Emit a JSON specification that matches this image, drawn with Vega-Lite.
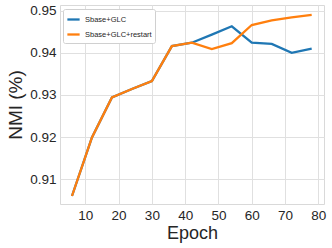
{
  "$schema": "https://vega.github.io/schema/vega-lite/v6.json",
  "width": 264,
  "height": 199,
  "autosize": {"type": "none"},
  "padding": {"left": 60, "top": 5, "right": 8, "bottom": 44},
  "background": "white",
  "config": {
    "font": "Liberation Sans",
    "view": {"stroke": "#d9d9d9", "strokeWidth": 1},
    "axis": {"domain": false, "ticks": false, "gridColor": "#e0e0e0", "gridWidth": 1, "labelColor": "#262626", "titleColor": "#262626", "titleFontWeight": "normal", "labelFont": "Liberation Sans", "titleFont": "Liberation Sans"}
  },
  "data": {"values": [
    {"epoch": 6, "nmi": 0.9060, "s": "Sbase+GLC"},
    {"epoch": 12, "nmi": 0.9199, "s": "Sbase+GLC"},
    {"epoch": 18, "nmi": 0.9294, "s": "Sbase+GLC"},
    {"epoch": 24, "nmi": 0.9314, "s": "Sbase+GLC"},
    {"epoch": 30, "nmi": 0.9333, "s": "Sbase+GLC"},
    {"epoch": 36, "nmi": 0.9416, "s": "Sbase+GLC"},
    {"epoch": 42, "nmi": 0.9424, "s": "Sbase+GLC"},
    {"epoch": 48, "nmi": 0.9443, "s": "Sbase+GLC"},
    {"epoch": 54, "nmi": 0.9463, "s": "Sbase+GLC"},
    {"epoch": 60, "nmi": 0.9424, "s": "Sbase+GLC"},
    {"epoch": 66, "nmi": 0.9421, "s": "Sbase+GLC"},
    {"epoch": 72, "nmi": 0.9400, "s": "Sbase+GLC"},
    {"epoch": 78, "nmi": 0.9410, "s": "Sbase+GLC"},
    {"epoch": 6, "nmi": 0.9060, "s": "Sbase+GLC+restart"},
    {"epoch": 12, "nmi": 0.9199, "s": "Sbase+GLC+restart"},
    {"epoch": 18, "nmi": 0.9294, "s": "Sbase+GLC+restart"},
    {"epoch": 24, "nmi": 0.9314, "s": "Sbase+GLC+restart"},
    {"epoch": 30, "nmi": 0.9333, "s": "Sbase+GLC+restart"},
    {"epoch": 36, "nmi": 0.9416, "s": "Sbase+GLC+restart"},
    {"epoch": 42, "nmi": 0.9424, "s": "Sbase+GLC+restart"},
    {"epoch": 48, "nmi": 0.9409, "s": "Sbase+GLC+restart"},
    {"epoch": 54, "nmi": 0.9423, "s": "Sbase+GLC+restart"},
    {"epoch": 60, "nmi": 0.9466, "s": "Sbase+GLC+restart"},
    {"epoch": 66, "nmi": 0.9477, "s": "Sbase+GLC+restart"},
    {"epoch": 72, "nmi": 0.9484, "s": "Sbase+GLC+restart"},
    {"epoch": 78, "nmi": 0.9490, "s": "Sbase+GLC+restart"}
  ]},
  "mark": {"type": "line", "strokeWidth": 2.3, "clip": true},
  "encoding": {
    "x": {"field": "epoch", "type": "quantitative", "title": "Epoch",
      "scale": {"domain": [2.4, 81.7], "nice": false, "zero": false},
      "axis": {"values": [10, 20, 30, 40, 50, 60, 70, 80], "labelFontSize": 13.5, "titleFontSize": 18, "labelPadding": 4, "titlePadding": 3}},
    "y": {"field": "nmi", "type": "quantitative", "title": "NMI (%)",
      "scale": {"domain": [0.9041, 0.95135], "nice": false, "zero": false},
      "axis": {"values": [0.91, 0.92, 0.93, 0.94, 0.95], "format": ".2f", "labelFontSize": 13.5, "titleFontSize": 19, "labelPadding": 4, "titlePadding": 4}},
    "color": {"field": "s", "type": "nominal",
      "scale": {"domain": ["Sbase+GLC", "Sbase+GLC+restart"], "range": ["#1f77b4", "#ff7f0e"]},
      "legend": {"title": null, "orient": "none", "legendX": 3, "legendY": 4, "symbolType": "stroke", "symbolStrokeWidth": 2.3, "symbolSize": 150, "labelFontSize": 7.5, "labelColor": "#262626", "rowPadding": 2, "padding": 3, "strokeColor": "#d0d0d0", "fillColor": "white", "cornerRadius": 2}},
    "order": {"field": "s"}
  }
}
